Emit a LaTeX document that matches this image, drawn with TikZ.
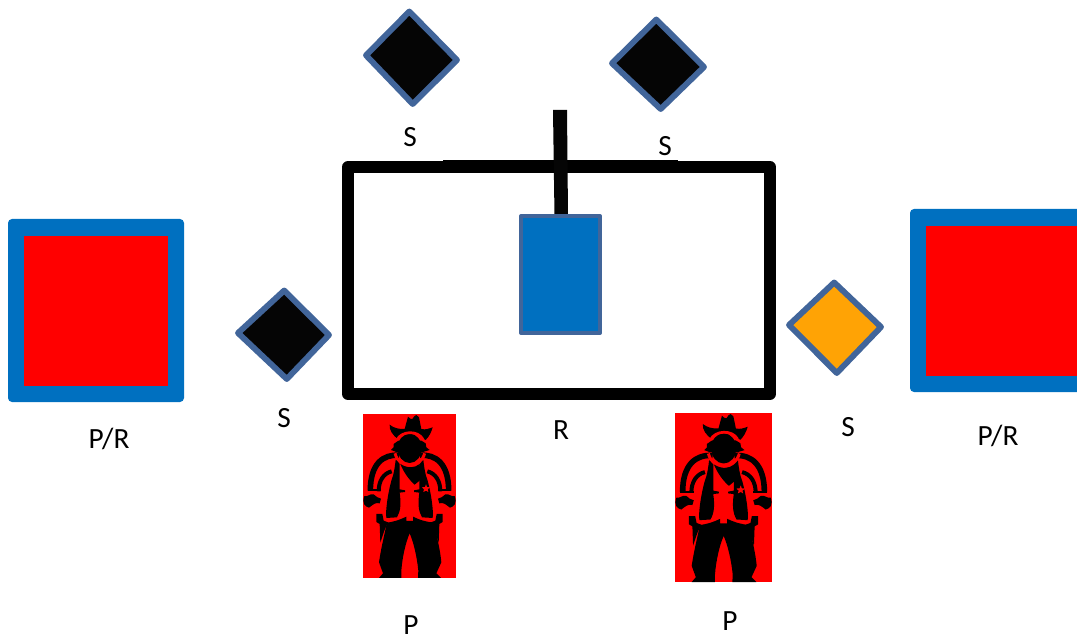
\documentclass[tikz,border=0pt]{standalone}
\usepackage{fontspec}
\setmainfont{Carlito}
\definecolor{frameblue}{HTML}{0070C0}
\definecolor{edgeblue}{HTML}{41659A}
\definecolor{amber}{HTML}{FFA305}
\definecolor{nearblack}{HTML}{050505}
\tikzset{
  lab/.style={inner sep=0pt,font=\fontsize{22}{26}\selectfont,text=black},
  dia/.style={draw=edgeblue,line width=4.4pt,line join=round,fill=#1},
  cowred/.style={draw=red,line width=2pt,line cap=butt,line join=round},
  cowblk/.style={draw=black,line cap=butt,line join=round},
}
\newcommand{\cowhalf}{%
  % outer sleeve band
  \draw[cowblk,line width=4.2pt] (108,124) .. controls (60,120) and (22,150) .. (22,230);
  % inner sleeve band
  \draw[cowblk,line width=3pt] (86,172) .. controls (62,178) and (47,200) .. (47,232);
  \draw[cowblk,line width=1.6pt] (14,229) -- (54,229);
  % glove
  \fill[black] (4,246) .. controls (14,250) and (20,238) .. (32,241)
     .. controls (38,248) and (46,252) .. (54,254) -- (50,268)
     .. controls (38,264) and (30,272) .. (18,281)
     .. controls (6,278) and (-4,268) .. (4,246) -- cycle;
  % vest
  \fill[black] (98,138) -- (110,138) -- (110,226) -- (126,229) -- (126,234) -- (110,236)
     .. controls (114,265) and (114,290) .. (102,310)
     -- (70,312) .. controls (66,285) and (80,210) .. (90,185)
     .. controls (94,170) and (96,155) .. (98,138) -- cycle;
  % holster
  \fill[black] (40,300) -- (58,300) -- (62,320) -- (75,325)
     -- (64,350) -- (52,386) -- (50,330) -- (40,324) -- cycle;
}
\newcommand{\cowboy}[4]{%
 \begin{scope}[shift={(#1,#2)},x=#3*0.75pt,y=-#4*0.75pt]
  \fill[red] (0,0) rectangle (279,492);
  % hat
  \fill[black] (125,45) -- (135,8) .. controls (140,14) and (145,16) .. (148,15)
     .. controls (152,8) and (156,4) .. (160,3) -- (168,10) -- (175,45)
     .. controls (188,48) and (198,44) .. (209,40)
     .. controls (205,55) and (198,68) .. (188,78)
     -- (172,68) .. controls (160,52) and (120,52) .. (106,76)
     .. controls (90,65) and (78,48) .. (80,32)
     .. controls (92,42) and (108,46) .. (125,45) -- cycle;
  % hair
  \fill[black] (84,108) -- (92,100) -- (92,90) -- (106,80) -- (175,80)
     -- (188,88) -- (190,100) -- (200,108) -- (180,114) -- (100,114) -- cycle;
  % sleeves, vests, gloves, holsters on both sides
  \cowhalf
  \begin{scope}[xscale=-1,xshift=-279*#3*0.75pt]
    \cowhalf
  \end{scope}
  % head with collar
  \fill[black] (140,103) ellipse (36 and 44);
  \draw[cowred,line width=2.2pt] (96,118) .. controls (108,167) and (172,167) .. (185,118);
  \draw[cowred] (102,78) .. controls (115,50) and (165,48) .. (180,76);
  % chest
  \fill[black] (112,150) .. controls (135,164) and (155,162) .. (170,150)
     -- (172,198) -- (155,212) .. controls (138,197) and (122,175) .. (112,150) -- cycle;
  % star
  \fill[red] (189,211) -- (192,219) -- (201,220) -- (194,226) -- (196,234)
     -- (189,230) -- (181,234) -- (183,226) -- (177,220) -- (186,219) -- cycle;
  % trousers
  \fill[black] (72,326) .. controls (90,324) and (110,318) .. (130,308) -- (130,321) -- (150,321) -- (150,308)
     .. controls (170,318) and (190,324) .. (213,326)
     .. controls (222,370) and (232,410) .. (235,445)
     -- (220,478) -- (234,492) -- (165,492) -- (166,470)
     .. controls (162,430) and (152,385) .. (140,358)
     .. controls (128,385) and (118,430) .. (115,470)
     -- (115,492) -- (48,492) -- (60,478) -- (48,445)
     .. controls (53,410) and (62,370) .. (72,326) -- cycle;
 \end{scope}}
\begin{document}
\begin{tikzpicture}[x=0.75pt,y=-0.75pt]
  \useasboundingbox (0,0) rectangle (1077,634);
  \clip (0,0) rectangle (1077,634);
  % side frames
  \fill[frameblue,rounded corners=3pt] (8,219) rectangle (184,402);
  \fill[red] (24,236) rectangle (168,386);
  \fill[frameblue,rounded corners=3pt] (910,209) rectangle (1090,392);
  \fill[red] (926,226) rectangle (1077,376);
  % room
  \draw[black,line width=9pt,line join=round] (348,167) rectangle (770,394);
  \fill[black] (443,160.5) rectangle (678,173.5);
  % pole and blue box
  \fill[nearblack] (553,110) -- (567,110) -- (568,216) -- (554.5,216) -- cycle;
  \draw[edgeblue,line width=3pt,fill=frameblue,line join=round] (521,216) rectangle (600,333);
  % diamonds
  \draw[dia=nearblack] (409.3,11.5) -- (457,60) -- (412.7,104) -- (366,55.3) -- cycle;
  \draw[dia=nearblack] (656.3,19.5) -- (704,67) -- (660.7,109) -- (612,63.3) -- cycle;
  \draw[dia=nearblack] (284.2,290.5) -- (329,335) -- (286.8,379) -- (238,333) -- cycle;
  \draw[dia=amber] (834.2,282.5) -- (881,327) -- (836.8,373) -- (789,325) -- cycle;
  % cowboys
  \cowboy{363}{414}{0.3333}{0.3333}
  \cowboy{675}{413}{0.3477}{0.3435}
  % labels
  \node[lab] (s1) at (410,137) {S};
  \node[lab] (s2) at (665,146) {S};
  \node[lab] (s3) at (284,418) {S};
  \node[lab] (s4) at (848,427) {S};
  \node[lab] (pr1) at (109,439) {P/R};
  \node[lab] (pr2) at (998,436) {P/R};
  \node[lab] (r) at (561,430) {R};
  \node[lab] (p1) at (411,625) {P};
  \node[lab] (p2) at (730,621) {P};
\end{tikzpicture}
\end{document}
